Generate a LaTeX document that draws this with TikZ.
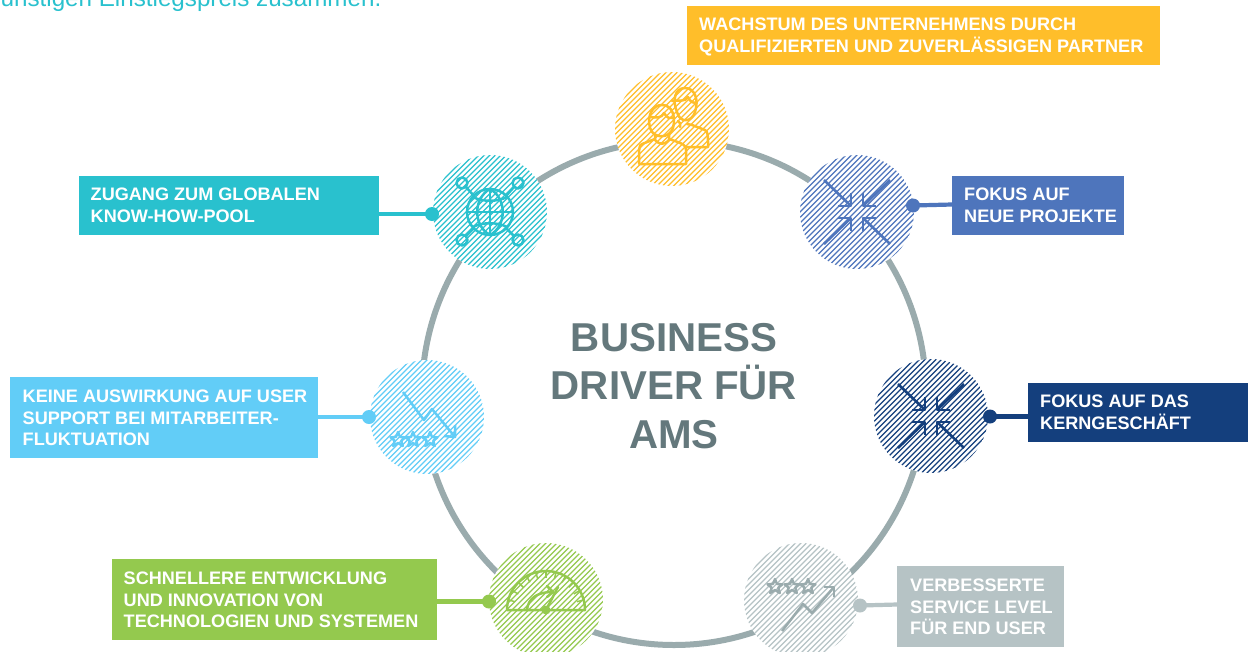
\documentclass[tikz,border=0pt]{standalone}
\usepackage{fontspec}
\setmainfont{Liberation Sans}
\usetikzlibrary{calc}
\definecolor{cyellow}{HTML}{FFBE2A}
\definecolor{cblue}{HTML}{4E75BC}
\definecolor{cnavy}{HTML}{143F7D}
\definecolor{cgrey}{HTML}{B6C3C5}
\definecolor{cgreen}{HTML}{94C94E}
\definecolor{csky}{HTML}{62CDF7}
\definecolor{cteal}{HTML}{29C1CE}
\definecolor{cring}{HTML}{9AABAD}
\definecolor{ctitle}{HTML}{64787C}
\tikzset{
  x=1pt,y=-1pt,
  lab/.style={anchor=north west,inner sep=0pt,text=white,font=\fontsize{18.1}{21.5}\selectfont\bfseries,align=left},
  dotlink/.style={line width=4.2pt},
  ico/.style={line width=2.5pt,line cap=round,line join=round},
}
% hatched disc: #1 centre x, #2 centre y, #3 colour, #4 node name
\newcommand{\hatchdisc}[4]{%
  \node[circle,minimum size=114pt,inner sep=0pt,fill=white] (#4) at (#1,#2) {};
  \begin{scope}
    \clip (#1,#2) circle[radius=57];
    \foreach \d in {-84.5,-79,...,85}{
      \draw[#3,line width=1.25pt] ($(#1,#2)+(\d-70,70)$) -- ($(#1,#2)+(\d+70,-70)$);
    }
  \end{scope}}
% four arrows pointing inwards
\newcommand{\inarrows}[3]{%
  \begin{scope}[shift={(#1,#2)},#3,ico,line width=2.6pt]
    \foreach \sx/\sy in {1/1,1/-1,-1/1,-1/-1}{
      \draw[line cap=butt] (\sx*33,\sy*32) -- (\sx*6,\sy*6);
      \draw[line cap=butt] (\sx*6,\sy*19) -- (\sx*6,\sy*6) -- (\sx*19,\sy*6);
    }
  \end{scope}}
\newcommand{\minstar}[3]{%
  \draw[#3,line width=2.4pt,line join=round] (#1,#2-7)
   -- ++(2,5) -- ++(5.5,0.3) -- ++(-4.2,3.4) -- ++(1.5,5.3) -- ++(-4.8,-3) -- ++(-4.8,3) -- ++(1.5,-5.3) -- ++(-4.2,-3.4) -- ++(5.5,-0.3) -- cycle;}
\begin{document}
\begin{tikzpicture}
\useasboundingbox (0,0) rectangle (1248,651);
\fill[white] (0,0) rectangle (1248,651);
\begin{scope}
\clip (0,0) rectangle (1248,651);
\node[anchor=base west,inner sep=0pt,text=cteal,font=\fontsize{24.2}{28}\selectfont] (intro) at (-13,6) {günstigen Einstiegspreis zusammen.};
\coordinate (ringc) at (674,393);
\draw[cring,line width=6pt] (ringc) circle[radius=252];
\end{scope}

\hatchdisc{672}{129}{cyellow}{d1}
\hatchdisc{857}{212}{cblue}{d2}
\hatchdisc{931}{416}{cnavy}{d3}
\hatchdisc{801}{600}{cgrey}{d4}
\hatchdisc{546}{600}{cgreen}{d5}
\hatchdisc{427}{417}{csky}{d6}
\hatchdisc{490}{212}{cteal}{d7}

% labels
\node[fill=cyellow,minimum width=473pt,minimum height=59pt,anchor=north west,inner sep=0pt] (b1) at (687,6) {};
\node[lab] (t1) at (699,18) {WACHSTUM DES UNTERNEHMENS DURCH\\QUALIFIZIERTEN UND ZUVERLÄSSIGEN PARTNER};
\node[fill=cblue,minimum width=172pt,minimum height=59pt,anchor=north west,inner sep=0pt] (b2) at (952,176) {};
\node[lab] (t2) at (964,188) {FOKUS AUF\\NEUE PROJEKTE};
\node[fill=cnavy,minimum width=220pt,minimum height=59pt,anchor=north west,inner sep=0pt] (b3) at (1028,383) {};
\node[lab] (t3) at (1040,395) {FOKUS AUF DAS\\KERNGESCHÄFT};
\node[fill=cgrey,minimum width=167pt,minimum height=81pt,anchor=north west,inner sep=0pt] (b4) at (897,566) {};
\node[lab] (t4) at (910,579) {VERBESSERTE\\SERVICE LEVEL\\FÜR END USER};
\node[fill=cgreen,minimum width=325pt,minimum height=81pt,anchor=north west,inner sep=0pt] (b5) at (112,559) {};
\node[lab] (t5) at (123.5,572) {SCHNELLERE ENTWICKLUNG\\UND INNOVATION VON\\TECHNOLOGIEN UND SYSTEMEN};
\node[fill=csky,minimum width=308pt,minimum height=81pt,anchor=north west,inner sep=0pt] (b6) at (10,377) {};
\node[lab] (t6) at (22.5,390) {KEINE AUSWIRKUNG AUF USER\\SUPPORT BEI MITARBEITER-\\FLUKTUATION};
\node[fill=cteal,minimum width=300pt,minimum height=59pt,anchor=north west,inner sep=0pt] (b7) at (79,176) {};
\node[lab] (t7) at (90.5,188) {ZUGANG ZUM GLOBALEN\\KNOW-HOW-POOL};

% connector dots
\coordinate (p2) at (913,205.5);
\coordinate (p3) at (990,416.5);
\coordinate (p4) at (860,605.5);
\coordinate (p5) at (489,601.5);
\coordinate (p6) at (369,417);
\coordinate (p7) at (432,214);
\draw[cblue,dotlink] (p2) -- (b2.west |- 0,204.5);
\fill[cblue] (p2) circle[radius=7];
\draw[cnavy,dotlink] (p3) -- (b3.west |- p3);
\fill[cnavy] (p3) circle[radius=7];
\draw[cgrey,dotlink] (p4) -- (b4.west |- 0,604.5);
\fill[cgrey] (p4) circle[radius=7];
\draw[cgreen,dotlink] (p5) -- (b5.east |- p5);
\fill[cgreen] (p5) circle[radius=7];
\draw[csky,dotlink] (p6) -- (b6.east |- p6);
\fill[csky] (p6) circle[radius=7];
\draw[cteal,dotlink] (p7) -- (b7.east |- p7);
\fill[cteal] (p7) circle[radius=7];

% centre title
\node[text=ctitle,align=center,font=\fontsize{40.3}{48.5}\selectfont\bfseries,inner sep=0pt] (title) at (674,386) {BUSINESS\\DRIVER FÜR\\AMS};

% people icon
\begin{scope}[cyellow,ico]
  \draw (677,112) .. controls (672,100) and (675,88) .. (685,88) .. controls (695,88) and (699,100) .. (695,112) .. controls (692,122) and (680,124) .. (677,112) -- cycle;
  \draw (678,121) .. controls (680,122) and (681,124) .. (680,127);
  \draw (687,124) -- (692,125) -- (705,130) .. controls (708,132) and (708,135) .. (708,145) -- (708,147) -- (686,147);
  \draw (672,101) .. controls (680,100) and (685,102) .. (688,97) .. controls (690,102) and (694,104) .. (697,102);
  \draw (650,128) .. controls (647,116) and (652,105) .. (662,105) .. controls (672,105) and (676,116) .. (673,128) .. controls (670,138) and (654,140) .. (650,128) -- cycle;
  \draw (651,117) .. controls (656,118) and (662,118) .. (664,113) .. controls (667,118) and (670,119) .. (673,118);
  \draw (655,135) -- (655,140) .. controls (660,145) and (664,145) .. (669,140) -- (669,135);
  \draw (655,139) -- (642,144) .. controls (639,145) and (639,148) .. (639,164) -- (686,164) -- (686,150) .. controls (686,145) and (684,144) .. (669,139);
\end{scope}

% inward arrows
\inarrows{857}{212}{cblue}
\inarrows{931}{416}{cnavy}

% globe icon
\begin{scope}[cteal,ico]
  \draw (490,212) circle[radius=23];
  \draw (467,212) -- (513,212) (490,189) -- (490,235);
  \draw (490,189) .. controls (473,198) and (473,226) .. (490,235);
  \draw (490,189) .. controls (507,198) and (507,226) .. (490,235);
  \draw (473,197) .. controls (482,202) and (498,202) .. (507,197);
  \draw (473,227) .. controls (482,222) and (498,222) .. (507,227);
  \foreach \sx/\sy/\rx/\ry in {-1/-1/462/183,1/-1/518/183,-1/1/462/240,1/1/518/240}{
    \draw (\rx,\ry) circle[radius=5.5];
    \draw (\rx-\sx*4,\ry-\sy*4) -- (490+\sx*16,212+\sy*16);
  }
\end{scope}

% falling chart with stars
\begin{scope}[csky,ico,line cap=butt]
  \draw (403,392) -- (424,420) -- (432,409) -- (455,437);
  \draw (444,436) -- (455,437) -- (455,425);
\end{scope}
\minstar{398}{439}{csky}
\minstar{413}{439}{csky}
\minstar{430}{439}{csky}

% speedometer
\begin{scope}[cgreen,ico]
  \draw (507,610) arc[start angle=180,end angle=360,radius=39] -- cycle;
  \fill (546,610) circle[radius=4.5];
  \draw (527,610) .. controls (528,598) and (538,592) .. (552,592);
  \draw (547,586) -- (553,592) -- (547,597);
  \draw (546,610) -- (558,587);
  \foreach \a in {15,30,...,165}{
    \draw[line width=1.5pt,line cap=butt] ($(546,610)+({38*cos(\a)},{-38*sin(\a)})$) -- ($(546,610)+({32*cos(\a)},{-32*sin(\a)})$);
  }
\end{scope}

% rising chart with stars
\begin{scope}[cring,ico,line cap=butt]
  \draw (782,631) -- (803,604) -- (812,613) -- (834,587);
  \draw (824,587) -- (834,587) -- (834,597);
\end{scope}
\minstar{775}{586}{cring}
\minstar{792}{586}{cring}
\minstar{808}{586}{cring}
\end{tikzpicture}
\end{document}
